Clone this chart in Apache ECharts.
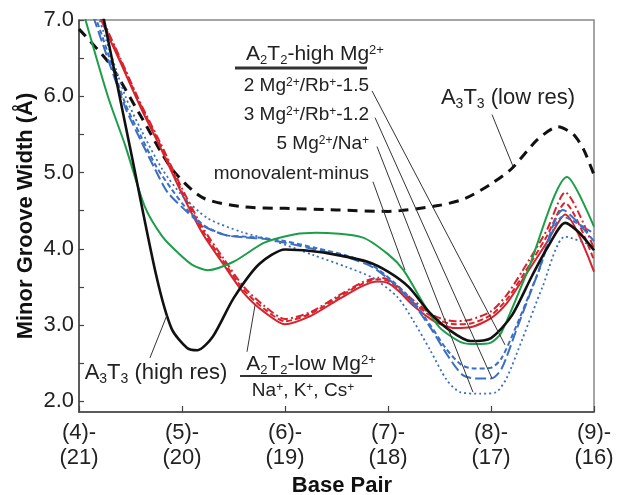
<!DOCTYPE html>
<html>
<head>
<meta charset="utf-8">
<script src="https://cdn.jsdelivr.net/npm/echarts@6/dist/echarts.min.js"></script>
<style>
  html, body { margin: 0; padding: 0; background: #fff; }
  #chart { width: 617px; height: 495px; }
</style>
</head>
<body>
<div id="chart"></div>
<script>
// base pair steps on the x axis
const bpTicks = [4, 5, 6, 7, 8, 9];
const pairLabels = ['(4)-\n(21)', '(5)-\n(20)', '(6)-\n(19)', '(7)-\n(18)', '(8)-\n(17)', '(9)-\n(16)'];
const widthLabels = [2, 3, 4, 5, 6, 7];
const widthTicks = [2, 2.5, 3, 3.5, 4, 4.5, 5, 5.5, 6, 6.5, 7];

// [base pair, minor groove width]
const a3t3Low = [[4.0,6.88],[4.3,6.42],[4.6,5.74],[4.9,5.05],[5.2,4.67],[5.6,4.55],[6.0,4.53],[6.5,4.51],
  [7.0,4.49],[7.5,4.57],[7.75,4.66],[8.0,4.85],[8.2,5.05],[8.45,5.43],[8.65,5.6],[8.8,5.5],[8.9,5.3],[9.0,4.97]];
const a3t3High = [[4.0,8.6],[4.25,6.95],[4.5,5.3],[4.75,3.65],[4.9,2.95],[5.05,2.7],[5.15,2.67],[5.3,2.85],
  [5.5,3.35],[5.75,3.8],[6.0,3.99],[6.25,3.97],[6.5,3.92],[6.8,3.83],[7.0,3.7],[7.2,3.5],[7.4,3.17],[7.6,2.93],
  [7.8,2.79],[8.0,2.83],[8.2,3.12],[8.4,3.65],[8.55,4.02],[8.72,4.34],[8.85,4.22],[9.0,3.98]];
const monoMinus = [[4.0,7.3],[4.28,6.0],[4.45,5.35],[4.64,4.55],[4.81,4.16],[4.96,3.95],[5.1,3.79],[5.25,3.72],
  [5.5,3.83],[5.8,4.08],[6.1,4.19],[6.3,4.21],[6.75,4.15],[7.0,3.93],[7.15,3.72],[7.35,3.27],[7.5,2.97],
  [7.7,2.78],[7.85,2.75],[8.0,2.77],[8.1,2.9],[8.35,3.69],[8.74,4.94],[9.0,4.29]];
const mg2Rb15 = [[4.0,7.55],[4.17,7.0],[4.45,5.9],[4.6,5.48],[4.75,5.08],[4.9,4.78],[5.06,4.5],[5.22,4.3],
  [5.42,4.18],[5.6,4.16],[5.8,4.14],[6.0,4.1],[6.3,4.01],[6.6,3.91],[6.85,3.78],[7.05,3.57],[7.25,3.3],
  [7.42,2.98],[7.57,2.68],[7.72,2.47],[7.85,2.43],[8.0,2.44],[8.1,2.56],[8.25,3.0],[8.45,3.66],[8.7,4.42],[9.0,4.2]];
const mg3Rb12 = [[4.0,7.6],[4.15,7.0],[4.45,5.85],[4.6,5.42],[4.74,5.04],[4.86,4.74],[5.06,4.47],[5.22,4.29],
  [5.42,4.18],[5.6,4.15],[5.8,4.13],[6.0,4.08],[6.3,3.99],[6.6,3.89],[6.85,3.76],[7.05,3.55],[7.25,3.27],
  [7.42,2.95],[7.57,2.62],[7.72,2.35],[7.85,2.3],[8.0,2.3],[8.1,2.42],[8.25,2.95],[8.45,3.66],[8.7,4.51],[9.0,4.1]];
const mg5Na = [[4.0,7.8],[4.2,7.0],[4.45,6.0],[4.61,5.54],[4.81,5.04],[5.0,4.7],[5.25,4.4],[5.58,4.22],
  [5.9,4.1],[6.27,3.92],[6.6,3.76],[6.85,3.62],[7.09,3.37],[7.24,3.07],[7.41,2.67],[7.57,2.28],[7.7,2.12],
  [7.9,2.1],[8.05,2.12],[8.15,2.3],[8.3,2.8],[8.5,3.5],[8.72,4.16],[9.0,4.03]];
const lowNa = [[4.0,7.75],[4.2,7.05],[4.4,6.45],[4.6,5.85],[4.8,5.3],[5.0,4.72],[5.2,4.2],[5.4,3.8],[5.6,3.42],
  [5.8,3.17],[6.0,3.01],[6.25,3.12],[6.5,3.32],[6.75,3.51],[6.9,3.57],[7.0,3.55],[7.1,3.45],[7.25,3.25],
  [7.45,3.05],[7.65,2.96],[7.8,2.97],[8.0,3.09],[8.15,3.28],[8.3,3.58],[8.54,4.08],[8.72,4.45],[9.0,3.7]];
const lowK = [[4.0,7.78],[4.2,7.08],[4.4,6.48],[4.6,5.88],[4.8,5.33],[5.0,4.75],[5.2,4.24],[5.4,3.84],[5.6,3.46],
  [5.8,3.21],[6.0,3.05],[6.25,3.15],[6.5,3.35],[6.75,3.54],[6.9,3.6],[7.0,3.58],[7.1,3.48],[7.25,3.29],
  [7.45,3.09],[7.65,3.01],[7.8,3.02],[8.0,3.13],[8.15,3.33],[8.3,3.63],[8.54,4.16],[8.72,4.6],[9.0,3.85]];
const lowCs = [[4.0,7.8],[4.2,7.1],[4.4,6.5],[4.6,5.9],[4.8,5.36],[5.0,4.79],[5.2,4.28],[5.4,3.88],[5.6,3.5],
  [5.8,3.25],[6.0,3.08],[6.25,3.17],[6.5,3.37],[6.75,3.56],[6.9,3.62],[7.0,3.6],[7.1,3.5],[7.25,3.32],
  [7.45,3.12],[7.65,3.05],[7.8,3.07],[8.0,3.18],[8.15,3.39],[8.3,3.7],[8.54,4.24],[8.72,4.74],[9.0,4.0]];

// label leader lines, from text to curve, in data units
const leaders = [
  [[6.845,6.07],[8.136,2.74]],
  [[6.874,5.72],[8.01,2.30]],
  [[6.893,5.34],[7.825,2.12]],
  [[6.854,4.88],[7.165,3.72]],
  [[8.01,5.76],[8.214,5.08]],
  [[4.689,2.57],[4.854,3.13]],
  [[5.631,2.65],[5.709,3.26]]
];

const BLUE = '#3b6fc3', RED = '#d6232c', GREEN = '#1c9e48', BLACK = '#111';
const FONT = '"Liberation Sans", Arial, sans-serif';

const chart = echarts.init(document.getElementById('chart'));

function curve(name, data, color, width, type) {
  return {
    name: name, type: 'line', data: data, smooth: 0.25, symbol: 'none',
    lineStyle: { color: color, width: width, type: type || 'solid' },
    clip: true, silent: true
  };
}

// rich text pieces
function rich(size) {
  return {
    n: { fontSize: size, fontFamily: FONT, color: '#222' },
    s: { fontSize: Math.round(size * 0.62), fontFamily: FONT, color: '#222', verticalAlign: 'bottom', padding: [0, 0, -2, 0] },
    p: { fontSize: Math.round(size * 0.62), fontFamily: FONT, color: '#222', verticalAlign: 'top' }
  };
}
function label(x, y, text, size, align) {
  return {
    type: 'text', x: x, y: y, silent: true,
    style: { text: text, rich: rich(size), align: align || 'center', verticalAlign: 'middle', fill: '#222' }
  };
}

const option = {
  animation: false,
  grid: { left: 79, right: 23, top: 20, bottom: 83, show: true, borderColor: '#888', borderWidth: 1.5 },
  xAxis: {
    type: 'value', min: 4, max: 9, interval: 1,
    axisLine: { show: true, lineStyle: { color: '#444', width: 1.5 } },
    axisTick: { show: true, inside: true, length: 6, lineStyle: { color: '#444', width: 1.2 } },
    axisLabel: {
      formatter: v => pairLabels[bpTicks.indexOf(v)] || '',
      fontSize: 22, fontFamily: FONT, color: '#222', lineHeight: 25, margin: 8
    },
    splitLine: { show: false }
  },
  yAxis: {
    type: 'value', min: 1.86, max: 7,
    axisLine: { show: true, lineStyle: { color: '#444', width: 1.5 } },
    axisTick: { show: true, inside: true, length: 5, customValues: widthTicks, lineStyle: { color: '#444', width: 1.2 } },
    axisLabel: {
      customValues: widthLabels, formatter: v => v.toFixed(1),
      fontSize: 22, fontFamily: FONT, color: '#222', margin: 5
    },
    splitLine: { show: false }
  },
  series: [
    curve('A3T3 (low res)', a3t3Low, BLACK, 3, [10, 7]),
    curve('Na+', lowNa, RED, 2),
    curve('K+', lowK, RED, 2, [6, 3]),
    curve('Cs+', lowCs, RED, 2, [8, 3, 2, 3]),
    curve('5 Mg/Na', mg5Na, BLUE, 1.8, [2, 3]),
    curve('3 Mg/Rb-1.2', mg3Rb12, BLUE, 2, [11, 4]),
    curve('2 Mg/Rb-1.5', mg2Rb15, BLUE, 2, [5, 3]),
    curve('monovalent-minus', monoMinus, GREEN, 2),
    curve('A3T3 (high res)', a3t3High, BLACK, 2.6),
    {
      type: 'lines', coordinateSystem: 'cartesian2d', silent: true, z: 5,
      lineStyle: { color: '#333', width: 1, opacity: 1 },
      data: leaders.map(c => ({ coords: c }))
    }
  ],
  graphic: [
    {
      type: 'text', x: 26, y: 216, rotation: Math.PI / 2, silent: true,
      style: { text: 'Minor Groove Width (Å)', font: 'bold 22px ' + FONT, fill: '#111', align: 'center', verticalAlign: 'middle' }
    },
    {
      type: 'text', x: 342, y: 486, silent: true,
      style: { text: 'Base Pair', font: 'bold 22px ' + FONT, fill: '#111', align: 'center', verticalAlign: 'middle' }
    },
    label(315, 54, '{n|A}{s|2}{n|T}{s|2}{n|-high Mg}{p|2+}', 21),
    { type: 'line', silent: true, shape: { x1: 235, y1: 68, x2: 367, y2: 68 }, style: { stroke: '#333', lineWidth: 3 } },
    label(369, 86, '{n|2 Mg}{p|2+}{n|/Rb}{p|+}{n|-1.5}', 19, 'right'),
    label(369, 115, '{n|3 Mg}{p|2+}{n|/Rb}{p|+}{n|-1.2}', 19, 'right'),
    label(369, 144, '{n|5 Mg}{p|2+}{n|/Na}{p|+}', 19, 'right'),
    label(369, 174, '{n|monovalent-minus}', 19, 'right'),
    label(508, 98, '{n|A}{s|3}{n|T}{s|3}{n| (low res)}', 22),
    label(156, 373, '{n|A}{s|3}{n|T}{s|3}{n| (high res)}', 22),
    label(311, 364, '{n|A}{s|2}{n|T}{s|2}{n|-low Mg}{p|2+}', 21),
    { type: 'line', silent: true, shape: { x1: 240, y1: 376, x2: 372, y2: 376 }, style: { stroke: '#333', lineWidth: 2 } },
    label(303, 391, '{n|Na}{p|+}{n|, K}{p|+}{n|, Cs}{p|+}', 19)
  ]
};

chart.setOption(option);
</script>
</body>
</html>
